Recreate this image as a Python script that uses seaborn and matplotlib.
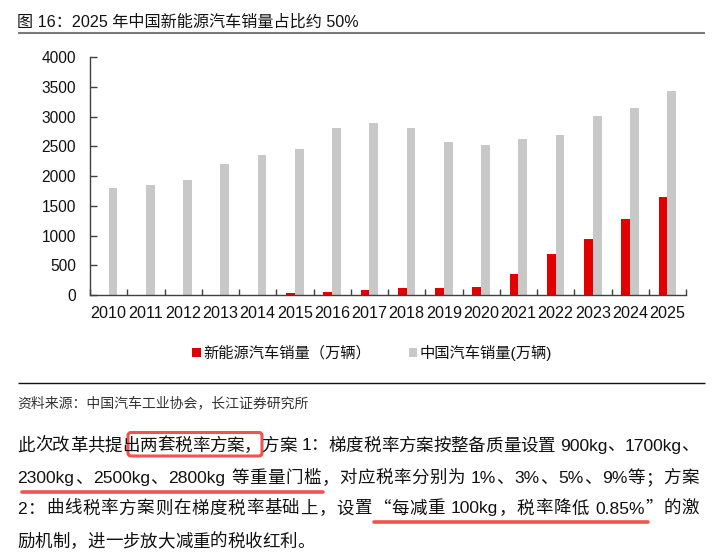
import re
import numpy as np
import pandas as pd
import seaborn as sns
import matplotlib.pyplot as plt
from matplotlib.patches import FancyBboxPatch
from matplotlib.font_manager import FontProperties, findfont, get_font

LATIN = 'Liberation Sans'
CJK = 'Noto Sans CJK SC'

# data (万辆)
years = [str(y) for y in range(2010, 2026)]
nev_sales = [0.8, 0.8, 1.3, 1.8, 7.5, 33, 51, 78, 126, 121, 137, 352, 688, 950, 1287, 1650]
car_sales = [1806, 1851, 1931, 2198, 2349, 2460, 2803, 2888, 2808, 2577, 2531, 2628, 2686, 3009, 3144, 3440]
series_names = ['新能源汽车销量（万辆）', '中国汽车销量(万辆)']
series_colors = ['#E00000', '#C8C8C8']
y_ticks = [0, 500, 1000, 1500, 2000, 2500, 3000, 3500, 4000]

title = '图 16：2025 年中国新能源汽车销量占比约 50%'
source = '资料来源：中国汽车工业协会，长江证券研究所'
para_lines = [
    '此次改革共提出两套税率方案，方案 1：梯度税率方案按整备质量设置 900kg、1700kg、',
    '2300kg、2500kg、2800kg 等重量门槛，对应税率分别为 1%、3%、5%、9%等；方案',
    '2：曲线税率方案则在梯度税率基础上，设置“每减重 100kg，税率降低 0.85%”的激',
    '励机制，进一步放大减重的税收红利。',
]

sns.set_theme(style='white')
plt.rcParams['font.family'] = [LATIN, CJK]

W, H = 725, 556
fig = plt.figure(figsize=(W / 100, H / 100), dpi=100)
ax = fig.add_axes([90 / W, 1 - 295 / H, 596 / W, 237.7 / H])

df = pd.DataFrame({
    'year': years * 2,
    'sales': nev_sales + car_sales,
    'series': [series_names[0]] * len(years) + [series_names[1]] * len(years),
})
sns.barplot(data=df, x='year', y='sales', hue='series', palette=series_colors,
            width=0.47, gap=0, linewidth=0, saturation=1, ax=ax)

ax.set_ylim(0, 4000)
ax.set_xlim(-0.5, len(years) - 0.5)
ax.set_yticks(y_ticks)
ax.set_xlabel('')
ax.set_ylabel('')
ax.set_xticks(np.arange(-0.5, len(years), 1), minor=True)
ax.tick_params(axis='x', which='major', length=0, pad=8, labelsize=11.6, labelcolor='#111111')
ax.tick_params(axis='x', which='minor', direction='in', length=4, width=1,
               color='#404040', bottom=True)
ax.tick_params(axis='y', direction='in', length=5, width=1, color='#404040',
               left=True, pad=10, labelsize=11.2, labelcolor='#111111')
for s in ['top', 'right']:
    ax.spines[s].set_visible(False)
for s in ['left', 'bottom']:
    ax.spines[s].set_color('#404040')
    ax.spines[s].set_linewidth(1)

old = ax.get_legend()
handles = old.legend_handles
ax.legend(handles, series_names, loc='center', bbox_to_anchor=(372 / W, 1 - 352.7 / H),
          bbox_transform=fig.transFigure, ncol=2, frameon=False, fontsize=11,
          handlelength=0.55, handleheight=0.55, handletextpad=0.15,
          columnspacing=2.5, borderpad=0, labelcolor='#111111')

# overlay in pixel coordinates for the page text
ov = fig.add_axes([0, 0, 1, 1], zorder=5)
ov.set_xlim(0, W)
ov.set_ylim(H, 0)
ov.axis('off')

ov.text(17.5, 27, title, fontsize=11.6, va='baseline', color='#111111')
ov.plot([18, 705], [32.5, 32.5], color='#7a7a7a', lw=1.5, solid_capstyle='butt')
ov.plot([18, 705], [382.5, 382.5], color='#111111', lw=1.0, solid_capstyle='butt')
ov.text(17.5, 407, source, fontsize=10, va='baseline', color='#333333')

HINT = plt.rcParams['text.hinting_factor']


def token_width(tok, family, size):
    # advance width in pixels at 100 dpi
    font = get_font(findfont(FontProperties(family=family)))
    font.set_size(size, 100)
    return sum(font.load_char(ord(c)).horiAdvance for c in tok) / 64 / HINT


def draw_line(line, x0, baseline, x1=None, fs=12.6):
    toks = re.findall(r'[!-~]+| |[^ -~]', line)
    fams = [LATIN if t.isascii() else CJK for t in toks]
    widths = [token_width(t, f, fs) for t, f in zip(toks, fams)]
    gap = 0 if x1 is None else (x1 - x0 - sum(widths)) / (len(toks) - 1)
    x = x0
    for t, f, w in zip(toks, fams, widths):
        if t != ' ':
            ov.text(x, baseline, t, fontfamily=f, fontsize=fs, va='baseline',
                    ha='left', color='#111111')
        x += w + gap


baselines = [450.5, 483, 513.5, 546.5]
for i, line in enumerate(para_lines):
    draw_line(line, 17.5, baselines[i], None if i == len(para_lines) - 1 else 699)

red = '#F25252'
ov.add_patch(FancyBboxPatch((128, 432.5), 134, 23.5, boxstyle='round,pad=0,rounding_size=3',
                            fill=False, ec=red, lw=2.2))
ov.plot([22, 323], [492.3, 492.3], color=red, lw=2.6, solid_capstyle='round')
ov.plot([374, 648], [522.3, 522.3], color=red, lw=2.6, solid_capstyle='round')

fig.savefig('out.png', dpi=100)
